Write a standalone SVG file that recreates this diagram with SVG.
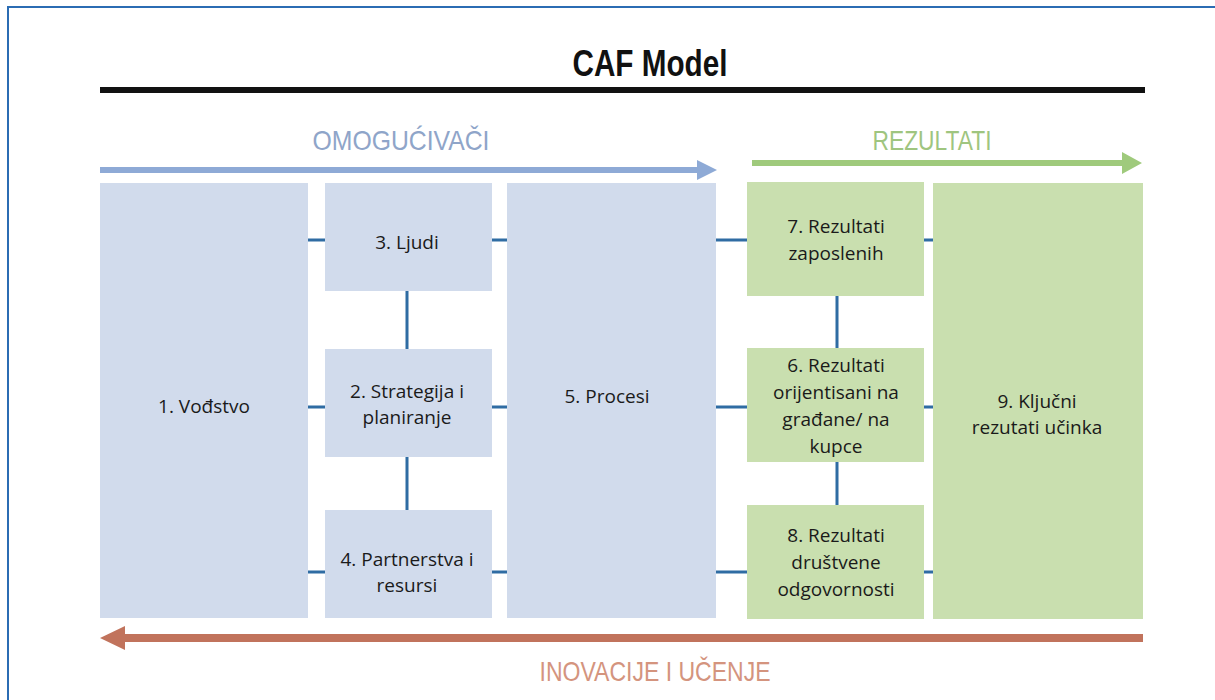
<svg xmlns="http://www.w3.org/2000/svg" width="1215" height="700" viewBox="0 0 1215 700">
  <style>
    .title { font-family: "Liberation Sans", Arial, sans-serif; font-weight: bold; font-size: 36px; fill: #111; }
    .head { font-family: "Liberation Sans", Arial, sans-serif; font-size: 28px; text-anchor: middle; }
    .lbl { font-family: "Open Sans", "Noto Sans", "Liberation Sans", sans-serif; font-size: 19px; fill: #1a1a1a; text-anchor: middle; }
    .enabler { fill: #d1dbec; }
    .result { fill: #c9dfaf; }
    .link { stroke: #2f6ca3; stroke-width: 3; fill: none; }
  </style>

  <rect x="0" y="0" width="1215" height="700" fill="#ffffff"/>
  <!-- frame -->
  <path d="M8,700 V7 H1215" fill="none" stroke="#2b6cb3" stroke-width="2"/>

  <!-- title -->
  <text class="title" x="650" y="76" text-anchor="middle" textLength="155" lengthAdjust="spacingAndGlyphs">CAF Model</text>
  <rect x="100" y="87" width="1045" height="6" fill="#111"/>

  <!-- section headings and flow arrows -->
  <text class="head" x="401" y="150" fill="#8fa5c9" textLength="177" lengthAdjust="spacingAndGlyphs">OMOGUĆIVAČI</text>
  <path d="M100,167 H697 V160 L717,170 L697,180 V173 H100 Z" fill="#8eaad6"/>

  <text class="head" x="932" y="150" fill="#9fc57f" textLength="119" lengthAdjust="spacingAndGlyphs">REZULTATI</text>
  <path d="M752,160 H1122 V152 L1142,163 L1122,174 V166 H752 Z" fill="#9fca7c"/>

  <path d="M1143,634 H125 V626 L100,638 L125,650 V642 H1143 Z" fill="#c1735c"/>
  <text class="head" x="655" y="681" fill="#d4947e" textLength="231" lengthAdjust="spacingAndGlyphs">INOVACIJE I UČENJE</text>

  <!-- connectors -->
  <g id="connectors">
    <path class="link" d="M308,240 H325 M492,240 H507 M716,240 H747 M924,240 H933"/>
    <path class="link" d="M308,407 H325 M492,407 H507 M716,407 H747 M924,407 H933"/>
    <path class="link" d="M308,572 H325 M492,572 H507 M716,572 H747 M924,572 H933"/>
    <path class="link" d="M407,291 V349 M407,457 V510"/>
    <path class="link" d="M837,296 V348 M837,462 V505"/>
  </g>

  <!-- enablers -->
  <g id="n1">
    <rect class="enabler" x="100" y="183" width="208" height="435"/>
    <text class="lbl" x="204" y="413">1. Vođstvo</text>
  </g>
  <g id="n3">
    <rect class="enabler" x="325" y="183" width="167" height="108"/>
    <text class="lbl" x="407" y="249">3. Ljudi</text>
  </g>
  <g id="n2">
    <rect class="enabler" x="325" y="349" width="167" height="108"/>
    <text class="lbl" x="407" y="398">2. Strategija i</text>
    <text class="lbl" x="407" y="424">planiranje</text>
  </g>
  <g id="n4">
    <rect class="enabler" x="325" y="510" width="167" height="108"/>
    <text class="lbl" x="407" y="566">4. Partnerstva i</text>
    <text class="lbl" x="407" y="592">resursi</text>
  </g>
  <g id="n5">
    <rect class="enabler" x="507" y="183" width="209" height="435"/>
    <text class="lbl" x="607" y="403">5. Procesi</text>
  </g>

  <!-- results -->
  <g id="n7">
    <rect class="result" x="747" y="182" width="177" height="114"/>
    <text class="lbl" x="836" y="233">7. Rezultati</text>
    <text class="lbl" x="836" y="260">zaposlenih</text>
  </g>
  <g id="n6">
    <rect class="result" x="747" y="348" width="177" height="114"/>
    <text class="lbl" x="836" y="372">6. Rezultati</text>
    <text class="lbl" x="836" y="399">orijentisani na</text>
    <text class="lbl" x="836" y="426">građane/ na</text>
    <text class="lbl" x="836" y="453">kupce</text>
  </g>
  <g id="n8">
    <rect class="result" x="747" y="505" width="177" height="114"/>
    <text class="lbl" x="836" y="542">8. Rezultati</text>
    <text class="lbl" x="836" y="569">društvene</text>
    <text class="lbl" x="836" y="596">odgovornosti</text>
  </g>
  <g id="n9">
    <rect class="result" x="933" y="183" width="210" height="436"/>
    <text class="lbl" x="1037" y="408">9. Ključni</text>
    <text class="lbl" x="1037" y="434">rezutati učinka</text>
  </g>
</svg>
